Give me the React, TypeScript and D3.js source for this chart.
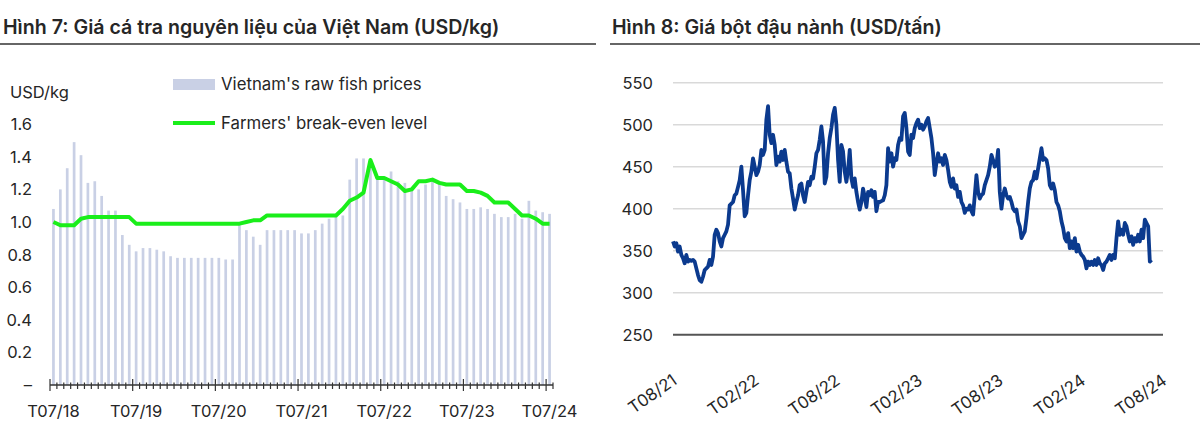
import React from 'react';
import * as d3 from 'd3';

// Hình 7: monthly, T07/18 .. T07/24
const fishStart = new Date(2018, 6, 1);
const fishPrices = [
  1.08, 1.2, 1.33, 1.49, 1.41, 1.24, 1.25, 1.16, 1.07, 1.07,
  0.92, 0.86, 0.82, 0.84, 0.84, 0.83, 0.82, 0.79, 0.78, 0.78,
  0.78, 0.78, 0.78, 0.78, 0.78, 0.77, 0.77, 0.99, 0.95, 0.91,
  0.86, 0.95, 0.95, 0.95, 0.95, 0.95, 0.93, 0.93, 0.95, 0.99,
  1.02, 1.04, 1.04, 1.26, 1.39, 1.39, 1.37, 1.28, 1.27, 1.31,
  1.25, 1.24, 1.2, 1.2, 1.23, 1.27, 1.25, 1.16, 1.14, 1.12,
  1.08, 1.08, 1.09, 1.08, 1.05, 1.03, 1.03, 1.05, 1.02, 1.13,
  1.07, 1.06, 1.05,
];
const breakEven = [
  1.0, 0.98, 0.98, 0.98, 1.02, 1.03, 1.03, 1.03, 1.03, 1.03,
  1.03, 1.03, 0.99, 0.99, 0.99, 0.99, 0.99, 0.99, 0.99, 0.99,
  0.99, 0.99, 0.99, 0.99, 0.99, 0.99, 0.99, 0.99, 1.0, 1.01,
  1.01, 1.04, 1.04, 1.04, 1.04, 1.04, 1.04, 1.04, 1.04, 1.04,
  1.04, 1.04, 1.08, 1.13, 1.15, 1.18, 1.38, 1.27, 1.27, 1.25,
  1.23, 1.19, 1.2, 1.25, 1.25, 1.26, 1.24, 1.23, 1.23, 1.23,
  1.19, 1.19, 1.18, 1.16, 1.12, 1.12, 1.12, 1.08, 1.04, 1.04,
  1.02, 0.99, 0.99,
];
const fishTicks = [0, 0.2, 0.4, 0.6, 0.8, 1.0, 1.2, 1.4, 1.6];

// Hình 8: soybean meal, about every 3.73 days from T08/21
const mealStart = new Date(2021, 7, 1);
const mealStepHours = 89.5;
const mealPrices = [
  361, 355, 359, 349, 355, 345, 341, 335, 345, 337, 339, 338, 339, 337, 329, 321, 315, 313, 319, 327,
  329, 331, 339, 333, 343, 369, 375, 371, 361, 355, 365, 369, 373, 381, 404, 406, 408, 416, 418, 426,
  434, 450, 422, 391, 395, 416, 434, 444, 460, 450, 440, 444, 452, 470, 464, 470, 506, 522, 488, 478,
  488, 476, 452, 462, 456, 468, 458, 470, 456, 444, 442, 424, 412, 399, 408, 416, 428, 430, 416, 408,
  420, 432, 428, 438, 436, 450, 466, 470, 482, 498, 480, 430, 438, 466, 484, 496, 512, 520, 500, 458,
  432, 476, 468, 444, 432, 446, 470, 436, 426, 436, 420, 408, 399, 408, 424, 414, 402, 420, 416, 422,
  414, 420, 397, 408, 408, 409, 410, 416, 428, 472, 456, 466, 450, 460, 458, 476, 484, 482, 510, 514,
  496, 468, 464, 488, 484, 496, 502,
  506, 496, 500, 494, 498, 504, 508, 496, 484, 466, 440, 454, 466, 456, 460, 452, 464, 458, 446, 432,
  426, 436, 424, 428, 414, 420, 408, 404, 395, 400, 399, 404, 397, 393, 416, 440, 420, 412, 416, 418,
  428, 434, 440, 450, 464, 458, 450, 452, 470, 420, 400, 416, 424, 416, 412, 414, 408, 400, 397, 399,
  385, 379, 365, 369, 373, 389, 408, 424, 432, 434, 444, 436, 448, 460, 472, 458, 460, 458, 448, 428,
  424, 430, 422, 408, 404, 397, 385, 377, 365, 361, 371, 353, 361, 353, 365, 349, 357, 349, 345, 343,
  339, 329, 337, 333, 337, 333, 339, 333, 341, 335, 333, 327, 335, 337, 341, 345, 339, 345, 341, 365,
  385, 369, 375, 369, 383, 379, 369, 361, 367, 357, 365, 361, 369, 361, 375, 365, 387, 383, 379, 337,
  339,
];
const mealTicks = [250, 300, 350, 400, 450, 500, 550];
const mealLabelMonths = [0, 6, 12, 18, 24, 30, 36];

const FONT = 'Inter, "DejaVu Sans", sans-serif';
const TEXT = '#262626';

const FishChart: React.FC = () => {
  const months = fishPrices.map((_, i) => d3.timeMonth.offset(fishStart, i));
  const x = d3.scaleBand<number>().domain(d3.range(months.length)).range([50, 553]);
  const y = d3.scaleLinear().domain([0, 1.6]).range([385, 124.2]);
  const bw = x.bandwidth();
  const cx = (i: number) => (x(i) as number) + bw / 2;
  const fmt = d3.timeFormat('T%m/%y');
  const line = d3
    .line<number>()
    .x((_, i) => cx(i))
    .y((d) => y(d));

  return (
    <g fontFamily={FONT} fill={TEXT}>
      <text x={3} y={34} fontSize={19.6} fontWeight={600}>
        Hình 7: Giá cá tra nguyên liệu của Việt Nam (USD/kg)
      </text>
      <line x1={0} x2={596} y1={44} y2={44} stroke="#333" strokeWidth={1.5} />

      <text x={10} y={98} fontSize={16.5}>USD/kg</text>
      {fishTicks.map((t) => (
        <text key={t} x={32} y={y(t) + 6} fontSize={16.5} textAnchor="end">
          {t === 0 ? '–' : t.toFixed(1)}
        </text>
      ))}

      {fishPrices.map((v, i) => (
        <rect key={i} x={cx(i) - 1.35} y={y(v)} width={2.7} height={y(0) - y(v)} fill="#c9d0e5" />
      ))}

      <path d={line(breakEven) || ''} fill="none" stroke="#1aee1a" strokeWidth={4} strokeLinejoin="round" />

      <line x1={50} x2={553} y1={385} y2={385} stroke="#333" strokeWidth={1.3} />
      {months.map((m, i) => (
        <line
          key={i}
          x1={x(i)}
          x2={x(i)}
          y1={i % 12 === 0 ? 379 : 382.5}
          y2={i % 12 === 0 ? 391 : 389}
          stroke="#333"
          strokeWidth={1.2}
        />
      ))}
      <line x1={553} x2={553} y1={382.5} y2={389} stroke="#333" strokeWidth={1.2} />
      {months.map((m, i) =>
        i % 12 === 0 ? (
          <text key={i} x={cx(i)} y={417} fontSize={16.5} textAnchor="middle">
            {fmt(m)}
          </text>
        ) : null
      )}

      <rect x={173} y={79} width={42} height={11} fill="#c9d0e5" />
      <text x={221} y={90} fontSize={16.8}>Vietnam's raw fish prices</text>
      <line x1={173} x2={215} y1={123} y2={123} stroke="#1aee1a" strokeWidth={4} />
      <text x={221} y={129} fontSize={16.8}>Farmers' break-even level</text>
    </g>
  );
};

const MealChart: React.FC = () => {
  const dates = mealPrices.map((_, i) => d3.timeHour.offset(mealStart, Math.round(i * mealStepHours)));
  const x = d3.scaleTime().domain([new Date(2021, 7, 1), new Date(2024, 7, 1)]).range([673, 1163]);
  const y = d3.scaleLinear().domain([250, 550]).range([334.7, 82.7]);
  const line = d3
    .line<number>()
    .x((_, i) => x(dates[i]))
    .y((d) => y(d));
  const xTicks = mealLabelMonths.map((k) => d3.timeMonth.offset(mealStart, k));
  const fmt = d3.timeFormat('T%m/%y');

  return (
    <g fontFamily={FONT} fill={TEXT}>
      <text x={612} y={34} fontSize={19.6} fontWeight={600}>
        Hình 8: Giá bột đậu nành (USD/tấn)
      </text>
      <line x1={610} x2={1200} y1={44} y2={44} stroke="#333" strokeWidth={1.5} />

      {mealTicks.map((t) => (
        <g key={t}>
          <line
            x1={673}
            x2={1163}
            y1={y(t)}
            y2={y(t)}
            stroke={t === 250 ? '#555' : '#d9d9d9'}
            strokeWidth={t === 250 ? 2 : 1.5}
          />
          <text x={653} y={y(t) + 6} fontSize={16.5} textAnchor="end">
            {t}
          </text>
        </g>
      ))}

      <path d={line(mealPrices) || ''} fill="none" stroke="#0b3a8e" strokeWidth={3.8} strokeLinejoin="round" />

      {xTicks.map((t, i) => (
        <text
          key={i}
          fontSize={16.8}
          textAnchor="end"
          transform={`translate(${x(t) + 5},${383}) rotate(-35)`}
        >
          {fmt(t)}
        </text>
      ))}
    </g>
  );
};

const App: React.FC = () => (
  <div style={{ position: 'absolute', left: 0, top: 0 }}>
    <svg width={1200} height={440} style={{ display: 'block', background: '#fff' }}>
      <FishChart />
      <MealChart />
    </svg>
  </div>
);

export default App;
